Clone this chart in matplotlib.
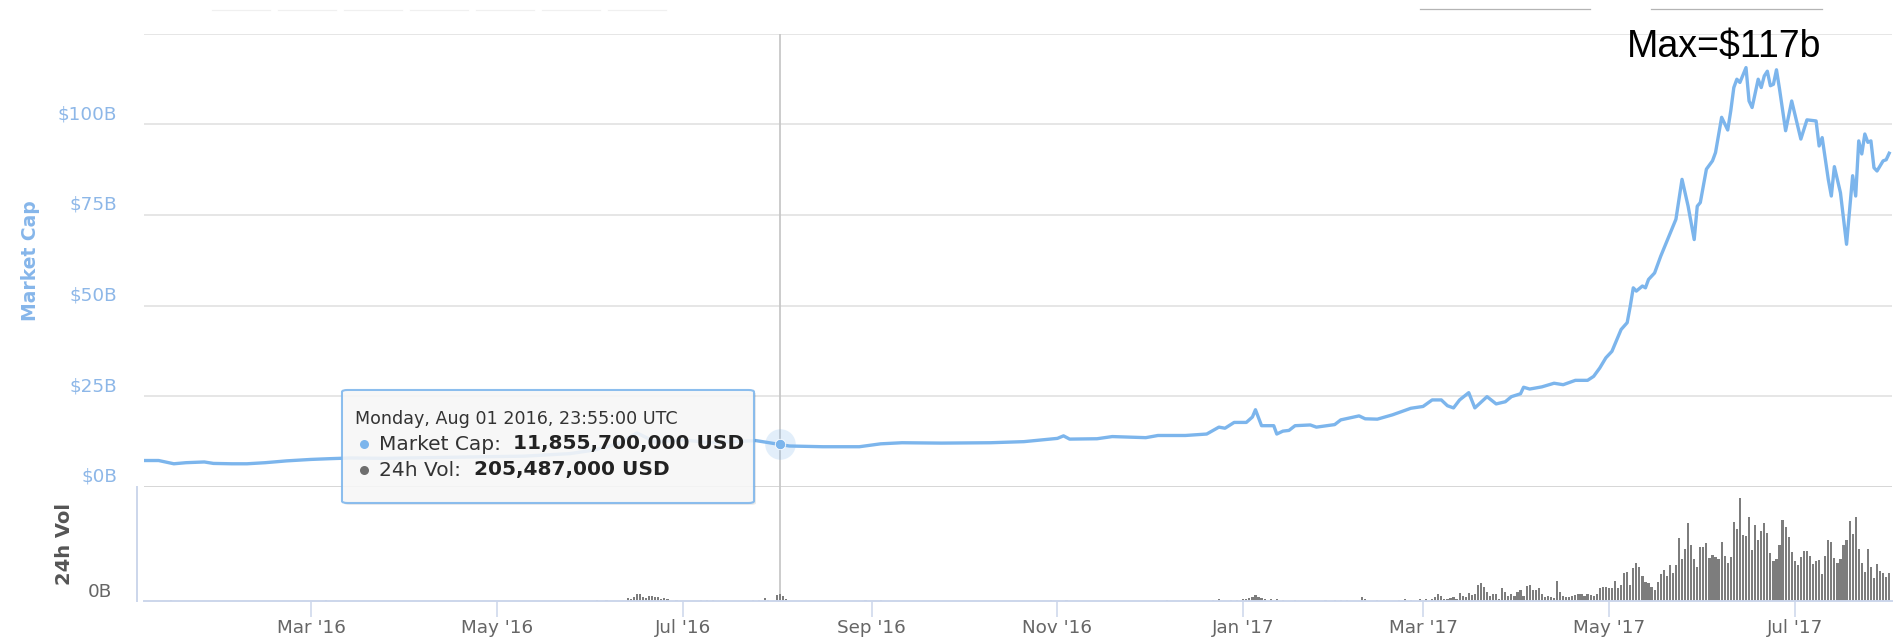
import matplotlib

matplotlib.use("Agg")
import matplotlib.pyplot as plt
import pandas as pd
from matplotlib.lines import Line2D
from matplotlib.patches import FancyBboxPatch

# ── data (market cap in $B, volume in $B) ───────────────────────────────────
MCAP_DATES = [
    "2016-01-06", "2016-01-11", "2016-01-16", "2016-01-20", "2016-01-26",
    "2016-01-29", "2016-02-04", "2016-02-09", "2016-02-15", "2016-02-22",
    "2016-03-01", "2016-03-07", "2016-03-14", "2016-03-25", "2016-04-10",
    "2016-04-25", "2016-05-10", "2016-05-25", "2016-06-02", "2016-06-10",
    "2016-06-16", "2016-06-22", "2016-07-01", "2016-07-10", "2016-07-25",
    "2016-08-01", "2016-08-05", "2016-08-16", "2016-08-28", "2016-09-04",
    "2016-09-11", "2016-09-24", "2016-10-10", "2016-10-21", "2016-11-01",
    "2016-11-03", "2016-11-05", "2016-11-14", "2016-11-19", "2016-11-30",
    "2016-12-04", "2016-12-13", "2016-12-20", "2016-12-24", "2016-12-26",
    "2016-12-29", "2017-01-02", "2017-01-04", "2017-01-05", "2017-01-07",
    "2017-01-11", "2017-01-12", "2017-01-14", "2017-01-16", "2017-01-18",
    "2017-01-23", "2017-01-25", "2017-01-31", "2017-02-02", "2017-02-08",
    "2017-02-10", "2017-02-14", "2017-02-19", "2017-02-25", "2017-03-01",
    "2017-03-04", "2017-03-07", "2017-03-09", "2017-03-11", "2017-03-13",
    "2017-03-16", "2017-03-18", "2017-03-22", "2017-03-25", "2017-03-28",
    "2017-03-30", "2017-04-02", "2017-04-03", "2017-04-05", "2017-04-09",
    "2017-04-13", "2017-04-16", "2017-04-20", "2017-04-24", "2017-04-26",
    "2017-04-28", "2017-04-30", "2017-05-02", "2017-05-05", "2017-05-07",
    "2017-05-08", "2017-05-09", "2017-05-10", "2017-05-12", "2017-05-13",
    "2017-05-14", "2017-05-16", "2017-05-18", "2017-05-23", "2017-05-25",
    "2017-05-27", "2017-05-29", "2017-05-30", "2017-05-31", "2017-06-02",
    "2017-06-04", "2017-06-05", "2017-06-07", "2017-06-09", "2017-06-10",
    "2017-06-11", "2017-06-12", "2017-06-13", "2017-06-15", "2017-06-16",
    "2017-06-17", "2017-06-19", "2017-06-20", "2017-06-21", "2017-06-22",
    "2017-06-23", "2017-06-24", "2017-06-25", "2017-06-26", "2017-06-28",
    "2017-06-30", "2017-07-03", "2017-07-05", "2017-07-08", "2017-07-09",
    "2017-07-10", "2017-07-12", "2017-07-13", "2017-07-14", "2017-07-16",
    "2017-07-18", "2017-07-20", "2017-07-21", "2017-07-22", "2017-07-23",
    "2017-07-24", "2017-07-25", "2017-07-26", "2017-07-27", "2017-07-28",
    "2017-07-30", "2017-07-31", "2017-08-01",
]
MCAP_VALUES = [
    7.3, 7.3, 6.4, 6.7, 6.9, 6.5, 6.4, 6.4, 6.7, 7.2,
    7.6, 7.8, 8.0, 7.9, 8.1, 8.3, 8.5, 9.2, 10.2, 12.0,
    14.9, 12.4, 13.0, 12.2, 12.8, 11.86, 11.3, 11.1, 11.1, 11.9,
    12.2, 12.1, 12.2, 12.5, 13.4, 14.1, 13.2, 13.3, 13.9, 13.6,
    14.2, 14.2, 14.6, 16.5, 16.2, 17.8, 17.8, 19.3, 21.3, 16.9,
    16.9, 14.6, 15.4, 15.6, 16.9, 17.1, 16.5, 17.2, 18.5, 19.6,
    18.8, 18.7, 19.9, 21.7, 22.2, 24.0, 24.0, 22.4, 21.8, 24.0,
    26.0, 21.8, 24.9, 22.9, 23.5, 24.9, 25.7, 27.5, 27.0, 27.6,
    28.6, 28.2, 29.4, 29.4, 30.5, 32.8, 35.6, 37.4, 43.4, 45.3,
    49.8, 54.9, 54.0, 55.4, 54.9, 57.2, 59.0, 63.6, 73.8, 84.8,
    77.4, 68.2, 77.4, 78.4, 87.6, 89.9, 92.2, 101.9, 98.4, 103.7,
    110.1, 112.4, 111.5, 115.6, 106.4, 104.6, 112.4, 110.1, 113.3, 114.6,
    110.6, 111.0, 115.0, 109.7, 98.2, 106.4, 95.9, 101.2, 100.9, 94.0,
    96.3, 84.8, 80.2, 88.3, 81.1, 66.9, 85.8, 80.2, 95.4, 91.8,
    97.3, 95.0, 95.4, 88.0, 87.1, 89.9, 90.2, 92.0,
]

# scattered small volume bars before March 2017
VOL_EARLY_DATES = [
    "2016-01-15", "2016-03-06", "2016-06-03", "2016-06-06", "2016-06-13",
    "2016-06-14", "2016-06-15", "2016-06-16", "2016-06-17", "2016-06-18",
    "2016-06-19", "2016-06-20", "2016-06-21", "2016-06-22", "2016-06-23",
    "2016-06-24", "2016-06-25", "2016-06-26", "2016-06-29", "2016-07-07",
    "2016-07-09", "2016-07-11", "2016-07-24", "2016-07-26", "2016-07-28",
    "2016-07-29", "2016-08-01", "2016-08-02", "2016-08-03", "2016-08-04",
    "2016-08-30", "2016-09-04", "2016-10-30", "2016-11-04", "2016-12-07",
    "2016-12-22", "2016-12-24", "2016-12-28", "2016-12-30", "2017-01-01",
    "2017-01-02", "2017-01-03", "2017-01-04", "2017-01-05", "2017-01-06",
    "2017-01-07", "2017-01-08", "2017-01-10", "2017-01-12", "2017-01-14",
    "2017-01-18", "2017-01-28", "2017-01-31", "2017-02-02", "2017-02-04",
    "2017-02-09", "2017-02-10", "2017-02-14", "2017-02-21", "2017-02-23",
    "2017-02-25", "2017-02-28", "2017-03-02",
]
VOL_EARLY = [
    0.03, 0.03, 0.03, 0.03, 0.10,
    0.07, 0.14, 0.22, 0.24, 0.14,
    0.10, 0.16, 0.18, 0.12, 0.14,
    0.08, 0.10, 0.06, 0.05, 0.04,
    0.04, 0.04, 0.04, 0.05, 0.09,
    0.05, 0.205, 0.24, 0.16, 0.07,
    0.03, 0.03, 0.03, 0.03, 0.03,
    0.05, 0.06, 0.04, 0.05, 0.06,
    0.08, 0.10, 0.15, 0.21, 0.14,
    0.09, 0.06, 0.07, 0.08, 0.05,
    0.04, 0.03, 0.04, 0.05, 0.04,
    0.14, 0.08, 0.04, 0.04, 0.07,
    0.05, 0.06, 0.08,
]
# daily volume, one bar per day, ending on VOL_DAILY_END
VOL_DAILY_END = "2017-08-01"
VOL_DAILY = [
    0.06, 0.12, 0.23, 0.17, 0.06, 0.06, 0.09, 0.12, 0.06, 0.28,
    0.17, 0.12, 0.28, 0.20, 0.23, 0.53, 0.59, 0.46, 0.31, 0.17,
    0.23, 0.23, 0.06, 0.42, 0.31, 0.17, 0.23, 0.17, 0.31, 0.37,
    0.17, 0.50, 0.53, 0.37, 0.37, 0.42, 0.23, 0.12, 0.17, 0.12,
    0.09, 0.67, 0.31, 0.17, 0.12, 0.12, 0.17, 0.20, 0.23, 0.23,
    0.17, 0.23, 0.20, 0.17, 0.23, 0.42, 0.46, 0.48, 0.42, 0.42,
    0.68, 0.42, 0.53, 0.92, 0.98, 0.53, 1.09, 1.26, 1.12, 0.83,
    0.64, 0.61, 0.48, 0.37, 0.64, 0.90,
    1.03, 0.83, 1.20, 0.92, 1.20, 2.09, 1.39, 1.72, 2.59, 1.87,
    1.39, 1.14, 1.81, 1.81, 1.92, 1.42, 1.53, 1.48, 1.39, 1.98,
    1.50, 1.26, 1.48, 2.64, 2.39, 3.42, 2.20, 2.17, 2.81, 1.70,
    2.53, 2.03, 2.34, 2.59, 2.28, 1.59, 1.33, 1.39, 1.87, 2.70,
    2.46, 2.14, 1.62, 1.34, 1.20, 1.48, 1.68, 1.68, 1.50, 1.23,
    1.33, 1.37, 0.90, 1.50, 2.03, 1.98, 1.44, 1.26, 1.39, 1.87,
    2.03, 2.68, 2.22, 2.81, 1.72, 1.26, 0.96, 1.73, 1.14, 0.76,
    1.23, 1.01, 0.92, 0.79, 0.92,
]

MCAP_TICKS = [0, 25, 50, 75, 100]
MCAP_TICK_LABELS = ["$0B", "$25B", "$50B", "$75B", "$100B"]
MONTH_TICKS = ["2016-03-01", "2016-05-01", "2016-07-01", "2016-09-01",
               "2016-11-01", "2017-01-01", "2017-03-01", "2017-05-01",
               "2017-07-01"]
MONTH_LABELS = ["Mar '16", "May '16", "Jul '16", "Sep '16", "Nov '16",
                "Jan '17", "Mar '17", "May '17", "Jul '17"]

HOVER_TIME = "2016-08-01 23:55"
HOVER_MCAP = 11.8557
TOOLTIP_HEAD = "Monday, Aug 01 2016, 23:55:00 UTC"
TOOLTIP_MCAP = "11,855,700,000 USD"
TOOLTIP_VOL = "205,487,000 USD"
MAX_LABEL = "Max=$117b"

# ── colours ─────────────────────────────────────────────────────────────────
C_LINE = "#7cb5ec"
C_YLAB = "#8db7e8"
C_GRID = "#e6e6e6"
C_AXIS = "#ccd6eb"
C_BAR = "#7d7d7d"
C_TEXT = "#666666"
C_TIP = "#333333"

W, H = 1895, 640


def fx(x):
    return x / W


def fy(y):
    return 1 - y / H


def main():
    plt.rcParams["font.family"] = ["DejaVu Sans"]
    fig = plt.figure(figsize=(W / 100, H / 100), dpi=100)
    ax = fig.add_axes([fx(144), fy(487), fx(1892) - fx(144), fy(33.5) - fy(487)])
    axv = fig.add_axes([fx(144), fy(601), fx(1892) - fx(144), fy(487) - fy(601)],
                       sharex=ax)

    xlim = (pd.Timestamp("2016-01-06 05:00"), pd.Timestamp("2017-08-01 22:00"))

    # ── market cap panel ───────────────────────────────────────────────────
    for s in ax.spines.values():
        s.set_visible(False)
    ax.set_ylim(0, 125)
    ax.set_yticks([0, 25, 50, 75, 100, 125])
    ax.yaxis.grid(True, color=C_GRID, lw=1.4)
    ax.set_axisbelow(True)
    ax.tick_params(axis="y", length=0, labelleft=False)
    ax.tick_params(axis="x", length=0, labelbottom=False)
    ax.axhline(0, color="#d6d6d6", lw=2.0, zorder=1)

    ax.plot(pd.to_datetime(MCAP_DATES), MCAP_VALUES, color=C_LINE, lw=2.4,
            solid_joinstyle="round", zorder=3)
    for v, lab in zip(MCAP_TICKS, MCAP_TICK_LABELS):
        ax.annotate(lab, (0, v), xycoords=("axes fraction", "data"),
                    xytext=(-27, 10), textcoords="offset pixels",
                    ha="right", va="center", fontsize=13.2, color=C_YLAB)
    ax.text(fx(30), fy(261), "Market Cap", transform=fig.transFigure,
            rotation=90, ha="center", va="center", fontsize=13.5,
            fontweight="bold", color="#86b6ea")

    hover = pd.Timestamp(HOVER_TIME)
    ax.axvline(hover, color="#c8c8c8", lw=1.3, zorder=2)
    ax.plot([hover], [HOVER_MCAP], "o", ms=22, color=C_LINE, alpha=0.22,
            mew=0, zorder=4)
    ax.plot([hover], [HOVER_MCAP], "o", ms=7.5, color=C_LINE, mec="white",
            mew=0.6, zorder=5)
    ax.set_xlim(*xlim)

    # ── volume panel ───────────────────────────────────────────────────────
    axv.bar(pd.to_datetime(VOL_EARLY_DATES), VOL_EARLY, width=0.72,
            color=C_BAR, lw=0)
    daily = pd.date_range(end=VOL_DAILY_END, periods=len(VOL_DAILY), freq="D")
    axv.bar(daily, VOL_DAILY, width=0.72, color=C_BAR, lw=0)
    axv.axvline(hover, color="#c8c8c8", lw=1.3, zorder=0)
    axv.set_ylim(0, 3.8)
    for s in ("top", "right"):
        axv.spines[s].set_visible(False)
    axv.spines["left"].set_position(("outward", 5))
    for s in ("left", "bottom"):
        axv.spines[s].set_color(C_AXIS)
        axv.spines[s].set_linewidth(1.4)
    axv.set_yticks([])
    axv.set_xticks(pd.to_datetime(MONTH_TICKS))
    axv.set_xticklabels(MONTH_LABELS)
    axv.tick_params(axis="x", length=11.5, width=1.1, color=C_AXIS, pad=1.5,
                    labelsize=13.2, labelcolor=C_TEXT)
    axv.annotate("0B", (0, 0), xycoords="axes fraction", xytext=(-32, 9),
                 textcoords="offset pixels", ha="right", va="center",
                 fontsize=13.2, color=C_TEXT)
    axv.text(fx(65), fy(544), "24h Vol", transform=fig.transFigure,
             rotation=90, ha="center", va="center", fontsize=14,
             fontweight="bold", color="#555555")
    axv.set_xlim(*xlim)

    # ── tooltip ────────────────────────────────────────────────────────────
    x0, y0, x1, y1 = 342, 390, 754, 503
    shadow = FancyBboxPatch((fx(x0 + 2), fy(y1 + 2)), fx(x1 - x0), fy(y0) - fy(y1),
                            boxstyle="round,pad=0,rounding_size=0.003",
                            transform=fig.transFigure, facecolor="#000000",
                            alpha=0.08, lw=0, zorder=10)
    box = FancyBboxPatch((fx(x0), fy(y1)), fx(x1 - x0), fy(y0) - fy(y1),
                         boxstyle="round,pad=0,rounding_size=0.003",
                         transform=fig.transFigure, facecolor="#f9f9f9",
                         alpha=0.88, edgecolor=C_LINE, lw=1.5, zorder=11)
    fig.add_artist(shadow)
    fig.add_artist(box)
    fig.text(fx(355), fy(419), TOOLTIP_HEAD, fontsize=12.6, color=C_TIP,
             va="center", zorder=12)
    fig.add_artist(Line2D([fx(364)], [fy(444)], marker="o", ms=6.5, color=C_LINE,
                          mew=0, transform=fig.transFigure, zorder=12))
    fig.text(fx(379), fy(444), "Market Cap:", fontsize=14.5, color=C_TIP,
             va="center", zorder=12)
    fig.text(fx(513), fy(444), TOOLTIP_MCAP, fontsize=14.5, color="#222222",
             fontweight="bold", va="center", zorder=12)
    fig.add_artist(Line2D([fx(364)], [fy(470)], marker="o", ms=6.5, color="#6e6e6e",
                          mew=0, transform=fig.transFigure, zorder=12))
    fig.text(fx(379), fy(470), "24h Vol:", fontsize=14.5, color=C_TIP,
             va="center", zorder=12)
    fig.text(fx(474), fy(470), TOOLTIP_VOL, fontsize=14.5, color="#222222",
             fontweight="bold", va="center", zorder=12)

    # ── max annotation and faint selector remnants at the top ──────────────
    fig.text(fx(1627), fy(57), MAX_LABEL, fontsize=27, family="Liberation Sans",
             color="black", va="baseline", ha="left")
    for a, b in ((1420, 1590), (1651, 1822)):
        fig.add_artist(Line2D([fx(a), fx(b)], [fy(9), fy(9)], color="#b4b4b4",
                              lw=0.9, transform=fig.transFigure))
    for k in range(7):
        a = 212 + k * 66
        fig.add_artist(Line2D([fx(a), fx(a + 58)], [fy(10), fy(10)],
                              color="#f0f0f0", lw=0.9, transform=fig.transFigure))

    fig.savefig("out.png", dpi=100)


if __name__ == "__main__":
    main()
